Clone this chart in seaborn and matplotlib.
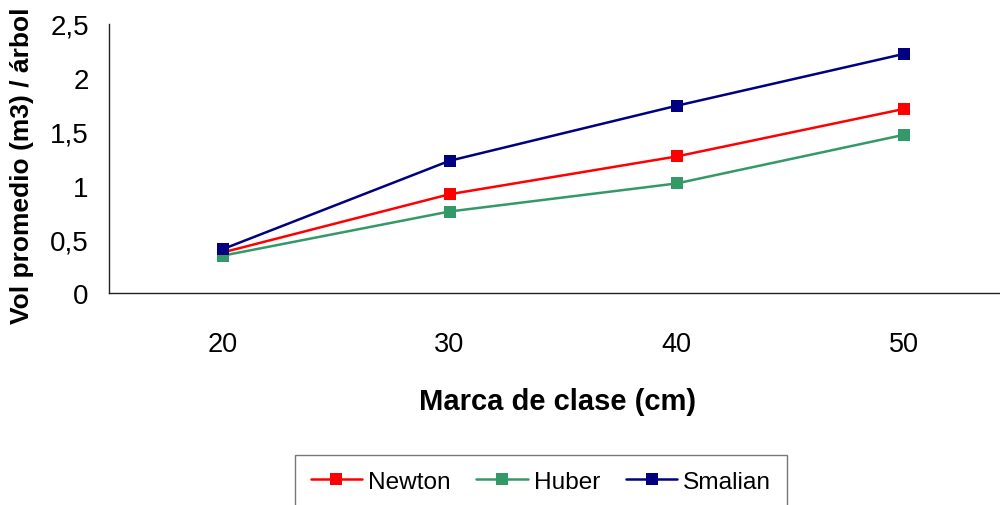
import matplotlib
matplotlib.use("Agg")
import matplotlib.pyplot as plt
import seaborn as sns
import pandas as pd
from matplotlib.ticker import FixedLocator

categories = ["20", "30", "40", "50"]
newton = [0.38, 0.92, 1.27, 1.71]
huber = [0.35, 0.76, 1.02, 1.47]
smalian = [0.41, 1.23, 1.74, 2.22]
series_names = ["Newton", "Huber", "Smalian"]
colors = ["#FF0000", "#339966", "#000080"]

df = pd.DataFrame({
    "Marca": categories * 3,
    "Vol": newton + huber + smalian,
    "Serie": [s for s in series_names for _ in categories],
})
df["pos"] = [categories.index(c) for c in df["Marca"]]

sns.set_style("white")
plt.rcParams["font.family"] = ["Liberation Sans", "DejaVu Sans"]

fig = plt.figure(figsize=(10, 5.06), dpi=100)
ax = fig.add_axes([0.109, 0.418, 0.908, 0.533])

sns.lineplot(data=df, x="pos", y="Vol", hue="Serie", hue_order=series_names,
             palette=colors, marker="s", markersize=9, markeredgewidth=0,
             linewidth=1.8, ax=ax, legend=True)

ax.set_xlim(-0.5, 3.5)
ax.set_ylim(0, 2.5)
ax.set_yticks([0, 0.5, 1, 1.5, 2, 2.5])
ax.set_yticklabels(["0", "0,5", "1", "1,5", "2", "2,5"], fontsize=20, color="black")
ax.set_xticks(range(len(categories)))
ax.set_xticklabels(categories, fontsize=19.5, color="black")
ax.xaxis.set_minor_locator(FixedLocator([-0.5, 0.5, 1.5, 2.5, 3.5]))
ax.tick_params(axis="x", which="major", length=0, pad=27)
ax.tick_params(axis="x", which="minor", length=6.5, width=1, color="#666666", direction="out")
ax.tick_params(axis="y", which="major", length=5.5, width=1, color="#222222", direction="out", pad=9)

for s in ["top", "right"]:
    ax.spines[s].set_visible(False)
for s in ["left", "bottom"]:
    ax.spines[s].set_color("#222222")
    ax.spines[s].set_linewidth(1.0)
ax.grid(False)

ax.set_xlabel("Marca de clase (cm)", fontsize=21, fontweight="bold", color="black")
ax.xaxis.set_label_coords(0.4945, -0.40)
ax.xaxis.label.set_va("center")
ax.set_ylabel("Vol promedio (m3) / árbol", fontsize=19, fontweight="bold", color="black")
ax.yaxis.set_label_coords(-0.096, 0.476)
ax.yaxis.label.set_va("center")

handles, labels = ax.get_legend_handles_labels()
ax.legend_.remove()
leg = fig.legend(handles, labels, loc="upper center", bbox_to_anchor=(0.541, 0.0988),
                 ncol=3, fontsize=17.6, frameon=True, fancybox=False, edgecolor="#555555",
                 labelcolor="black",
                 handlelength=2.1, handletextpad=0.25, columnspacing=1.05,
                 borderpad=0.65, borderaxespad=0)
leg.get_frame().set_linewidth(1.0)

fig.savefig("out.png", dpi=100)
